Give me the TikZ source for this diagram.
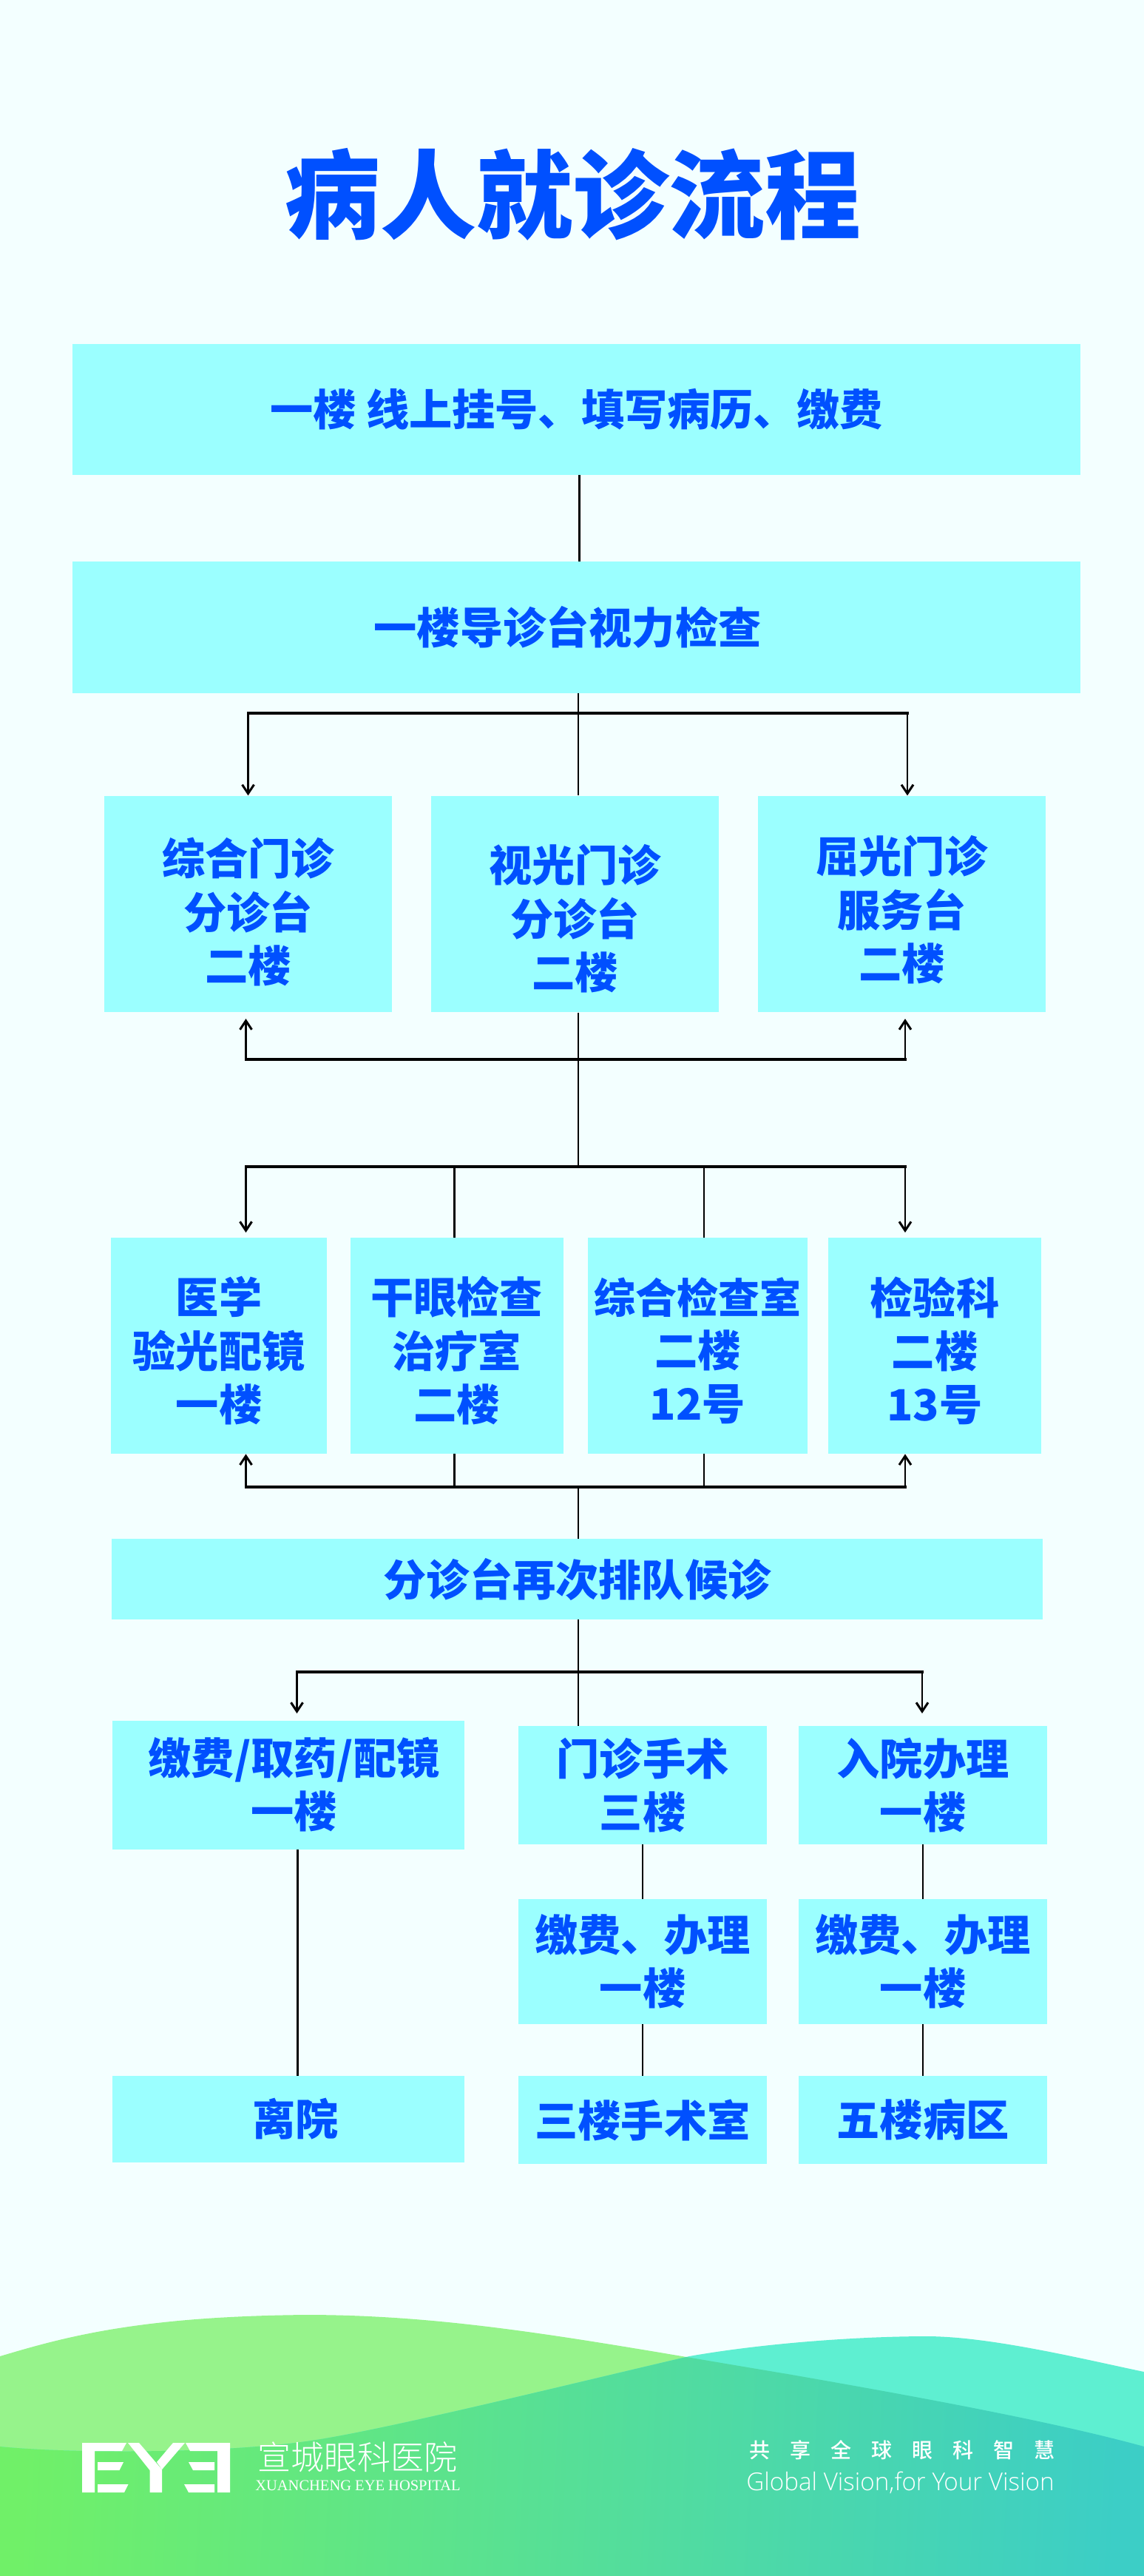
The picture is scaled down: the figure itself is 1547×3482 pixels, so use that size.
\documentclass[tikz,border=0pt]{standalone}
\usepackage{fontspec}
\usepackage{xcolor}
\usetikzlibrary{arrows.meta,calc}
\setmainfont{Noto Sans CJK SC}[BoldFont=* Black]
\newfontfamily\logocjk{Noto Sans CJK SC Light}
\newfontfamily\slogancjk{Noto Sans CJK SC Medium}
\newfontfamily\logolatin{Liberation Serif}
\newfontfamily\sloganfont{Open Sans Light}
\definecolor{pagebg}{RGB}{243,255,255}
\definecolor{boxcyan}{RGB}{155,255,255}
\definecolor{textblue}{RGB}{0,80,255}
\definecolor{hillgreen}{RGB}{150,243,139}
\definecolor{hillteal}{RGB}{94,239,209}
\definecolor{groundleft}{RGB}{112,240,104}
\definecolor{groundright}{RGB}{60,206,198}
\newcommand{\shifttext}[3]{\raisebox{\dimexpr#2pt-10pt\relax}[0pt][0pt]{\makebox[0pt]{\hspace{#1pt}\begin{tabular}{@{}c@{}}#3\end{tabular}}}}
\tikzset{
  flowbox/.style={fill=boxcyan,inner sep=0pt,text=textblue,align=center,font=\fontsize{29.1}{36}\bfseries\selectfont},
  flowline/.style={line width=1.25pt,black},
  flowbus/.style={line width=1.75pt,black,line cap=rect},
  flowarrow/.style={line width=1.25pt,black,-{Straight Barb[length=6pt,width=8pt,line width=1.5pt]}}
}
\begin{document}
\begin{tikzpicture}[x=0.5pt,y=-0.5pt]
\useasboundingbox (0,0) rectangle (1547,3482);
\fill[pagebg] (0,0) rectangle (1547,3482);
% hills at the foot of the page
\fill[hillgreen] (0,3185) .. controls (90,3158) and (190,3131) .. (414,3129)
  .. controls (620,3129) and (800,3165) .. (1065,3209)
  .. controls (1220,3236) and (1420,3272) .. (1547,3307)
  -- (1547,3482) -- (0,3482) -- cycle;
\fill[hillteal] (0,3307) .. controls (100,3317) and (300,3316) .. (414,3300)
  .. controls (510,3287) and (760,3225) .. (932,3185)
  .. controls (1040,3166) and (1170,3158) .. (1253,3158)
  .. controls (1340,3158) and (1470,3190) .. (1547,3206)
  -- (1547,3482) -- (0,3482) -- cycle;
\begin{scope}
  \clip (0,3185) .. controls (90,3158) and (190,3131) .. (414,3129)
    .. controls (620,3129) and (800,3165) .. (1065,3209)
    .. controls (1220,3236) and (1420,3272) .. (1547,3307)
    -- (1547,3482) -- (0,3482) -- cycle;
  \clip (0,3307) .. controls (100,3317) and (300,3316) .. (414,3300)
    .. controls (510,3287) and (760,3225) .. (932,3185)
    .. controls (1040,3166) and (1170,3158) .. (1253,3158)
    .. controls (1340,3158) and (1470,3190) .. (1547,3206)
    -- (1547,3482) -- (0,3482) -- cycle;
  \shade[left color=groundleft,right color=groundright,shading angle=87] (0,3150) rectangle (1547,3482);
\end{scope}
% title
\node[text=textblue,inner sep=0pt,font=\fontsize{65}{70}\bfseries\selectfont] (title) at (774,263) {病人就诊流程};
% boxes
\node[flowbox,minimum width=681.5pt,minimum height=88.5pt] (guahao) at (779.5,553.5) {一楼 线上挂号、填写病历、缴费};
\node[flowbox,minimum width=681.5pt,minimum height=88.75pt] (shili) at (779.5,848) {\shifttext{-12}{0}{一楼导诊台视力检查}};
\node[flowbox,minimum width=194.5pt,minimum height=146.25pt] (zonghe) at (335.5,1222) {\shifttext{0}{-5.5}{综合门诊\\分诊台\\二楼}};
\node[flowbox,minimum width=194.5pt,minimum height=146.25pt] (shiguang) at (777.5,1222) {\shifttext{0}{-10}{视光门诊\\分诊台\\二楼}};
\node[flowbox,minimum width=194.5pt,minimum height=146.25pt] (quguang) at (1219.5,1222) {\shifttext{0}{-4}{屈光门诊\\服务台\\二楼}};
\node[flowbox,minimum width=146pt,minimum height=146pt] (yanguang) at (296,1819) {\shifttext{0}{-3.5}{医学\\验光配镜\\一楼}};
\node[flowbox,minimum width=144.25pt,minimum height=146pt] (ganyan) at (617.75,1819) {\shifttext{0}{-3.5}{干眼检查\\治疗室\\二楼}};
\node[flowbox,minimum width=148.5pt,minimum height=146pt] (jiancha) at (943.5,1819) {\shifttext{0}{-3.5}{{\fontsize{28}{36}\selectfont 综合检查室}\\二楼\\12号}};
\node[flowbox,minimum width=144pt,minimum height=146pt] (jianyan) at (1264,1819) {\shifttext{0}{-3.5}{检验科\\二楼\\13号}};
\node[flowbox,minimum width=629.5pt,minimum height=54.5pt] (paidui) at (780.5,2134.5) {分诊台再次排队候诊};
\node[flowbox,minimum width=238.25pt,minimum height=87pt] (quyao) at (389.75,2413) {\shifttext{8}{0}{缴费/取药/配镜\\一楼}};
\node[flowbox,minimum width=168pt,minimum height=80pt] (shoushu) at (869,2413) {门诊手术\\三楼};
\node[flowbox,minimum width=168pt,minimum height=80pt] (ruyuan) at (1248,2413) {入院办理\\一楼};
\node[flowbox,minimum width=168pt,minimum height=84.5pt] (jiaofeia) at (869,2651.5) {缴费、办理\\一楼};
\node[flowbox,minimum width=168pt,minimum height=84.5pt] (jiaofeib) at (1248,2651.5) {缴费、办理\\一楼};
\node[flowbox,minimum width=238.25pt,minimum height=58.5pt] (liyuan) at (389.75,2864.5) {\shifttext{10}{0}{离院}};
\node[flowbox,minimum width=168pt,minimum height=59.5pt] (shoushushi) at (869,2865.5) {三楼手术室};
\node[flowbox,minimum width=168pt,minimum height=59.5pt] (bingqu) at (1248,2865.5) {五楼病区};
% bus ends and arrow tips
\coordinate (busa) at (782,964);
\coordinate (busal) at (335.5,964);
\coordinate (busar) at (1227,964);
\coordinate (busb) at (782,1432);
\coordinate (busbl) at (332.5,1432);
\coordinate (busbr) at (1224,1432);
\coordinate (tipbl) at (332.5,1377);
\coordinate (tipbr) at (1224,1377);
\coordinate (busc) at (782,1577);
\coordinate (buscl) at (332.5,1577);
\coordinate (buscr) at (1224,1577);
\coordinate (tipcl) at (332.5,1666);
\coordinate (tipcr) at (1224,1666);
\coordinate (busd) at (782,2010);
\coordinate (busdl) at (332.5,2010);
\coordinate (busdr) at (1224,2010);
\coordinate (buse) at (782,2260);
\coordinate (busel) at (401.5,2260);
\coordinate (buser) at (1247,2260);
\coordinate (tipel) at (401.5,2316);
\coordinate (tiper) at (1247,2316);
\coordinate (brancha) at (614.6,1577);
\coordinate (branchb) at (952,1577);
\coordinate (branchc) at (614.6,2010);
\coordinate (branchd) at (952,2010);
\coordinate (topline) at (783.6,700);
\coordinate (quline) at (402.4,2650);
% connectors
\draw[flowline] (guahao.south -| topline) -- (shili.north -| topline);
\draw[flowline] (shili.south -| busa) -- (shiguang.north -| busa);
\foreach \l/\r in {busal/busar,busbl/busbr,buscl/buscr,busdl/busdr,busel/buser} {
    \draw[flowbus] (\l) -- (\r);
}
\draw[flowarrow] (busal) -- (busal |- zonghe.north);
\draw[flowarrow] (busar) -- (busar |- quguang.north);
\draw[flowline] (shiguang.south -| busb) -- (busc);
\draw[flowarrow] (busbl) -- (tipbl);
\draw[flowarrow] (busbr) -- (tipbr);
\draw[flowarrow] (buscl) -- (tipcl);
\draw[flowarrow] (buscr) -- (tipcr);
\draw[flowline] (brancha) -- (brancha |- ganyan.north);
\draw[flowline] (branchb) -- (branchb |- jiancha.north);
\draw[flowline] (branchc |- ganyan.south) -- (branchc);
\draw[flowline] (branchd |- jiancha.south) -- (branchd);
\draw[flowarrow] (busdl) -- (busdl |- yanguang.south);
\draw[flowarrow] (busdr) -- (busdr |- jianyan.south);
\draw[flowline] (busd) -- (busd |- paidui.north);
\draw[flowline] (paidui.south -| buse) -- (buse |- shoushu.north);
\draw[flowarrow] (busel) -- (tipel);
\draw[flowarrow] (buser) -- (tiper);
\draw[flowline] (quyao.south -| quline) -- (liyuan.north -| quline);
\draw[flowline] (shoushu.south) -- (jiaofeia.north);
\draw[flowline] (jiaofeia.south) -- (shoushushi.north);
\draw[flowline] (ruyuan.south) -- (jiaofeib.north);
\draw[flowline] (jiaofeib.south) -- (bingqu.north);
% logo
\fill[white] (111,3302) -- (171,3302) -- (165,3313) -- (128,3313) -- (128,3369) -- (111,3369) -- cycle;
\fill[white] (132,3328) -- (167,3328) -- (161.5,3339) -- (132,3339) -- cycle;
\fill[white] (132,3358) -- (173.5,3358) -- (168,3369) -- (132,3369) -- cycle;
\fill[white] (173,3302) -- (188,3302) -- (219,3338) -- (219,3369) -- (202.5,3369) -- (202.5,3339) -- cycle;
\fill[white] (234,3302) -- (250,3302) -- (219,3338) -- (212,3328) -- cycle;
\fill[white] (251,3302) -- (311,3302) -- (311,3369) -- (294,3369) -- (294,3313) -- (257,3313) -- cycle;
\fill[white] (255,3328) -- (290,3328) -- (290,3339) -- (261,3339) -- cycle;
\fill[white] (249,3358) -- (290,3358) -- (290,3369) -- (255,3369) -- cycle;
\node[text=white,inner sep=0pt,font=\logocjk\fontsize{22.5}{24}\selectfont] (logoname) at (483,3321) {宣城眼科医院};
\node[text=white,inner sep=0pt,font=\logolatin\fontsize{10.25}{12}\selectfont] (logoeng) at (484,3360) {XUANCHENG EYE HOSPITAL};
\node[text=white,inner sep=0pt,font=\slogancjk\fontsize{14}{16}\selectfont] (sloganzh) at (1220,3312) {共\hspace{13.5pt}享\hspace{13.5pt}全\hspace{13.5pt}球\hspace{13.5pt}眼\hspace{13.5pt}科\hspace{13.5pt}智\hspace{13.5pt}慧};
\node[text=white,inner sep=0pt,font=\sloganfont\fontsize{16.6}{18}\selectfont] (sloganen) at (1217.5,3356) {Global Vision,for Your Vision};
\end{tikzpicture}
\end{document}
